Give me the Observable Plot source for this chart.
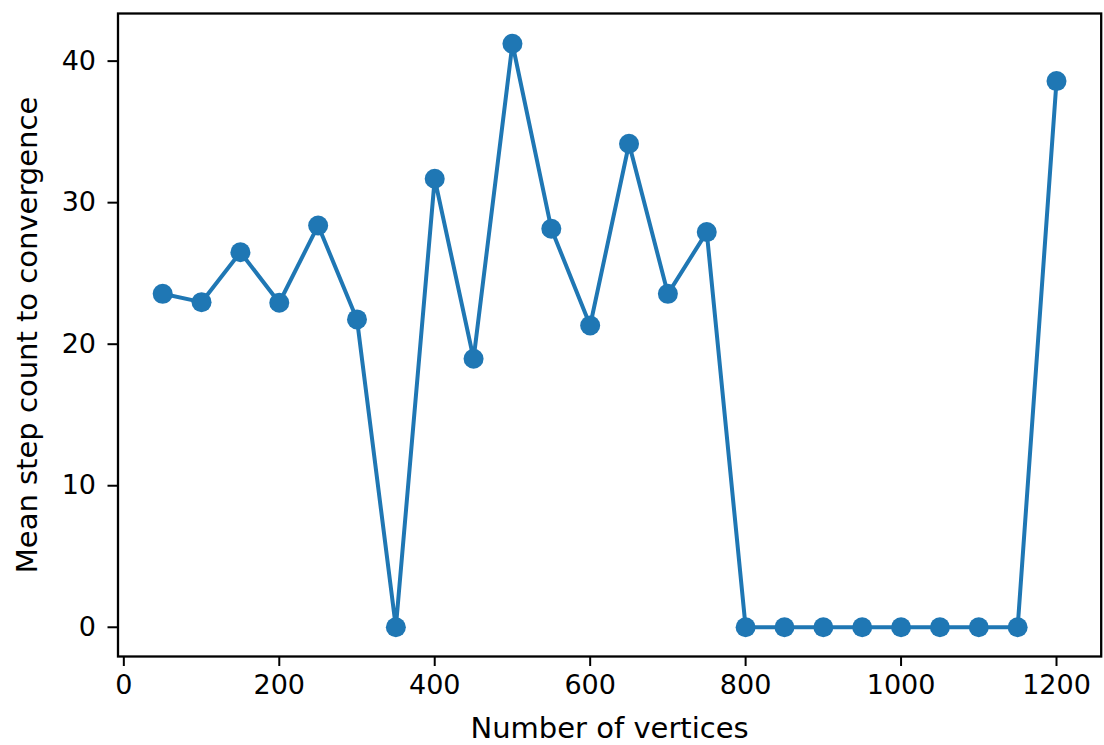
<!DOCTYPE html>
<html>
<head>
<meta charset="utf-8">
<script src="https://cdn.jsdelivr.net/npm/d3@7"></script>
<script src="https://cdn.jsdelivr.net/npm/@observablehq/plot@0.6"></script>
<style>
  html, body { margin: 0; padding: 0; background: #fff; }
  #chart svg { display: block; }
</style>
</head>
<body>
<div id="chart"></div>
<script>
// Number of vertices in each test graph
const vertices = [50, 100, 150, 200, 250, 300, 350, 400, 450, 500, 550, 600,
                  650, 700, 750, 800, 850, 900, 950, 1000, 1050, 1100, 1150, 1200];
// Mean number of steps until convergence
const meanSteps = [23.56, 22.97, 26.5, 22.93, 28.39, 21.75, 0, 31.69, 18.97, 41.23, 28.16, 21.32,
                   34.16, 23.56, 27.92, 0, 0, 0, 0, 0, 0, 0, 0, 38.59];

const xTicks = [0, 200, 400, 600, 800, 1000, 1200];
const yTicks = [0, 10, 20, 30, 40];

const xLabel = "Number of vertices";
const yLabel = "Mean step count to convergence";

const data = vertices.map((v, i) => ({vertices: v, steps: meanSteps[i]}));

const chart = Plot.plot({
  width: 1104,
  height: 745,
  marginLeft: 117.5,
  marginRight: 3.3,
  marginTop: 13,
  marginBottom: 89,
  x: {domain: [-7.5, 1257.5]},
  y: {domain: [-2.065, 43.365]},
  style: {fontFamily: "DejaVu Sans", fontSize: "27px", color: "#000", background: "white"},
  marks: [
    Plot.axisX(xTicks, {tickSize: 10, tickPadding: 8, strokeWidth: 2, label: null, fontSize: 27, tickFormat: d => String(d)}),
    Plot.axisY(yTicks, {tickSize: 10, tickPadding: 12, strokeWidth: 2, label: null, fontSize: 27, tickFormat: d => String(d)}),
    Plot.line(data, {x: "vertices", y: "steps", stroke: "#1f77b4", strokeWidth: 4}),
    Plot.dot(data, {x: "vertices", y: "steps", r: 10, fill: "#1f77b4"}),
    Plot.frame({stroke: "#000", strokeWidth: 2.3}),
    Plot.text([xLabel], {text: d => d, frameAnchor: "bottom", dy: 72, fontSize: 29, lineAnchor: "middle", textAnchor: "middle", fill: "#000"}),
    Plot.text([yLabel], {text: d => d, frameAnchor: "left", dx: -90.5, rotate: -90, fontSize: 29, lineAnchor: "middle", textAnchor: "middle", fill: "#000"})
  ]
});

document.getElementById("chart").appendChild(chart);
</script>
</body>
</html>
